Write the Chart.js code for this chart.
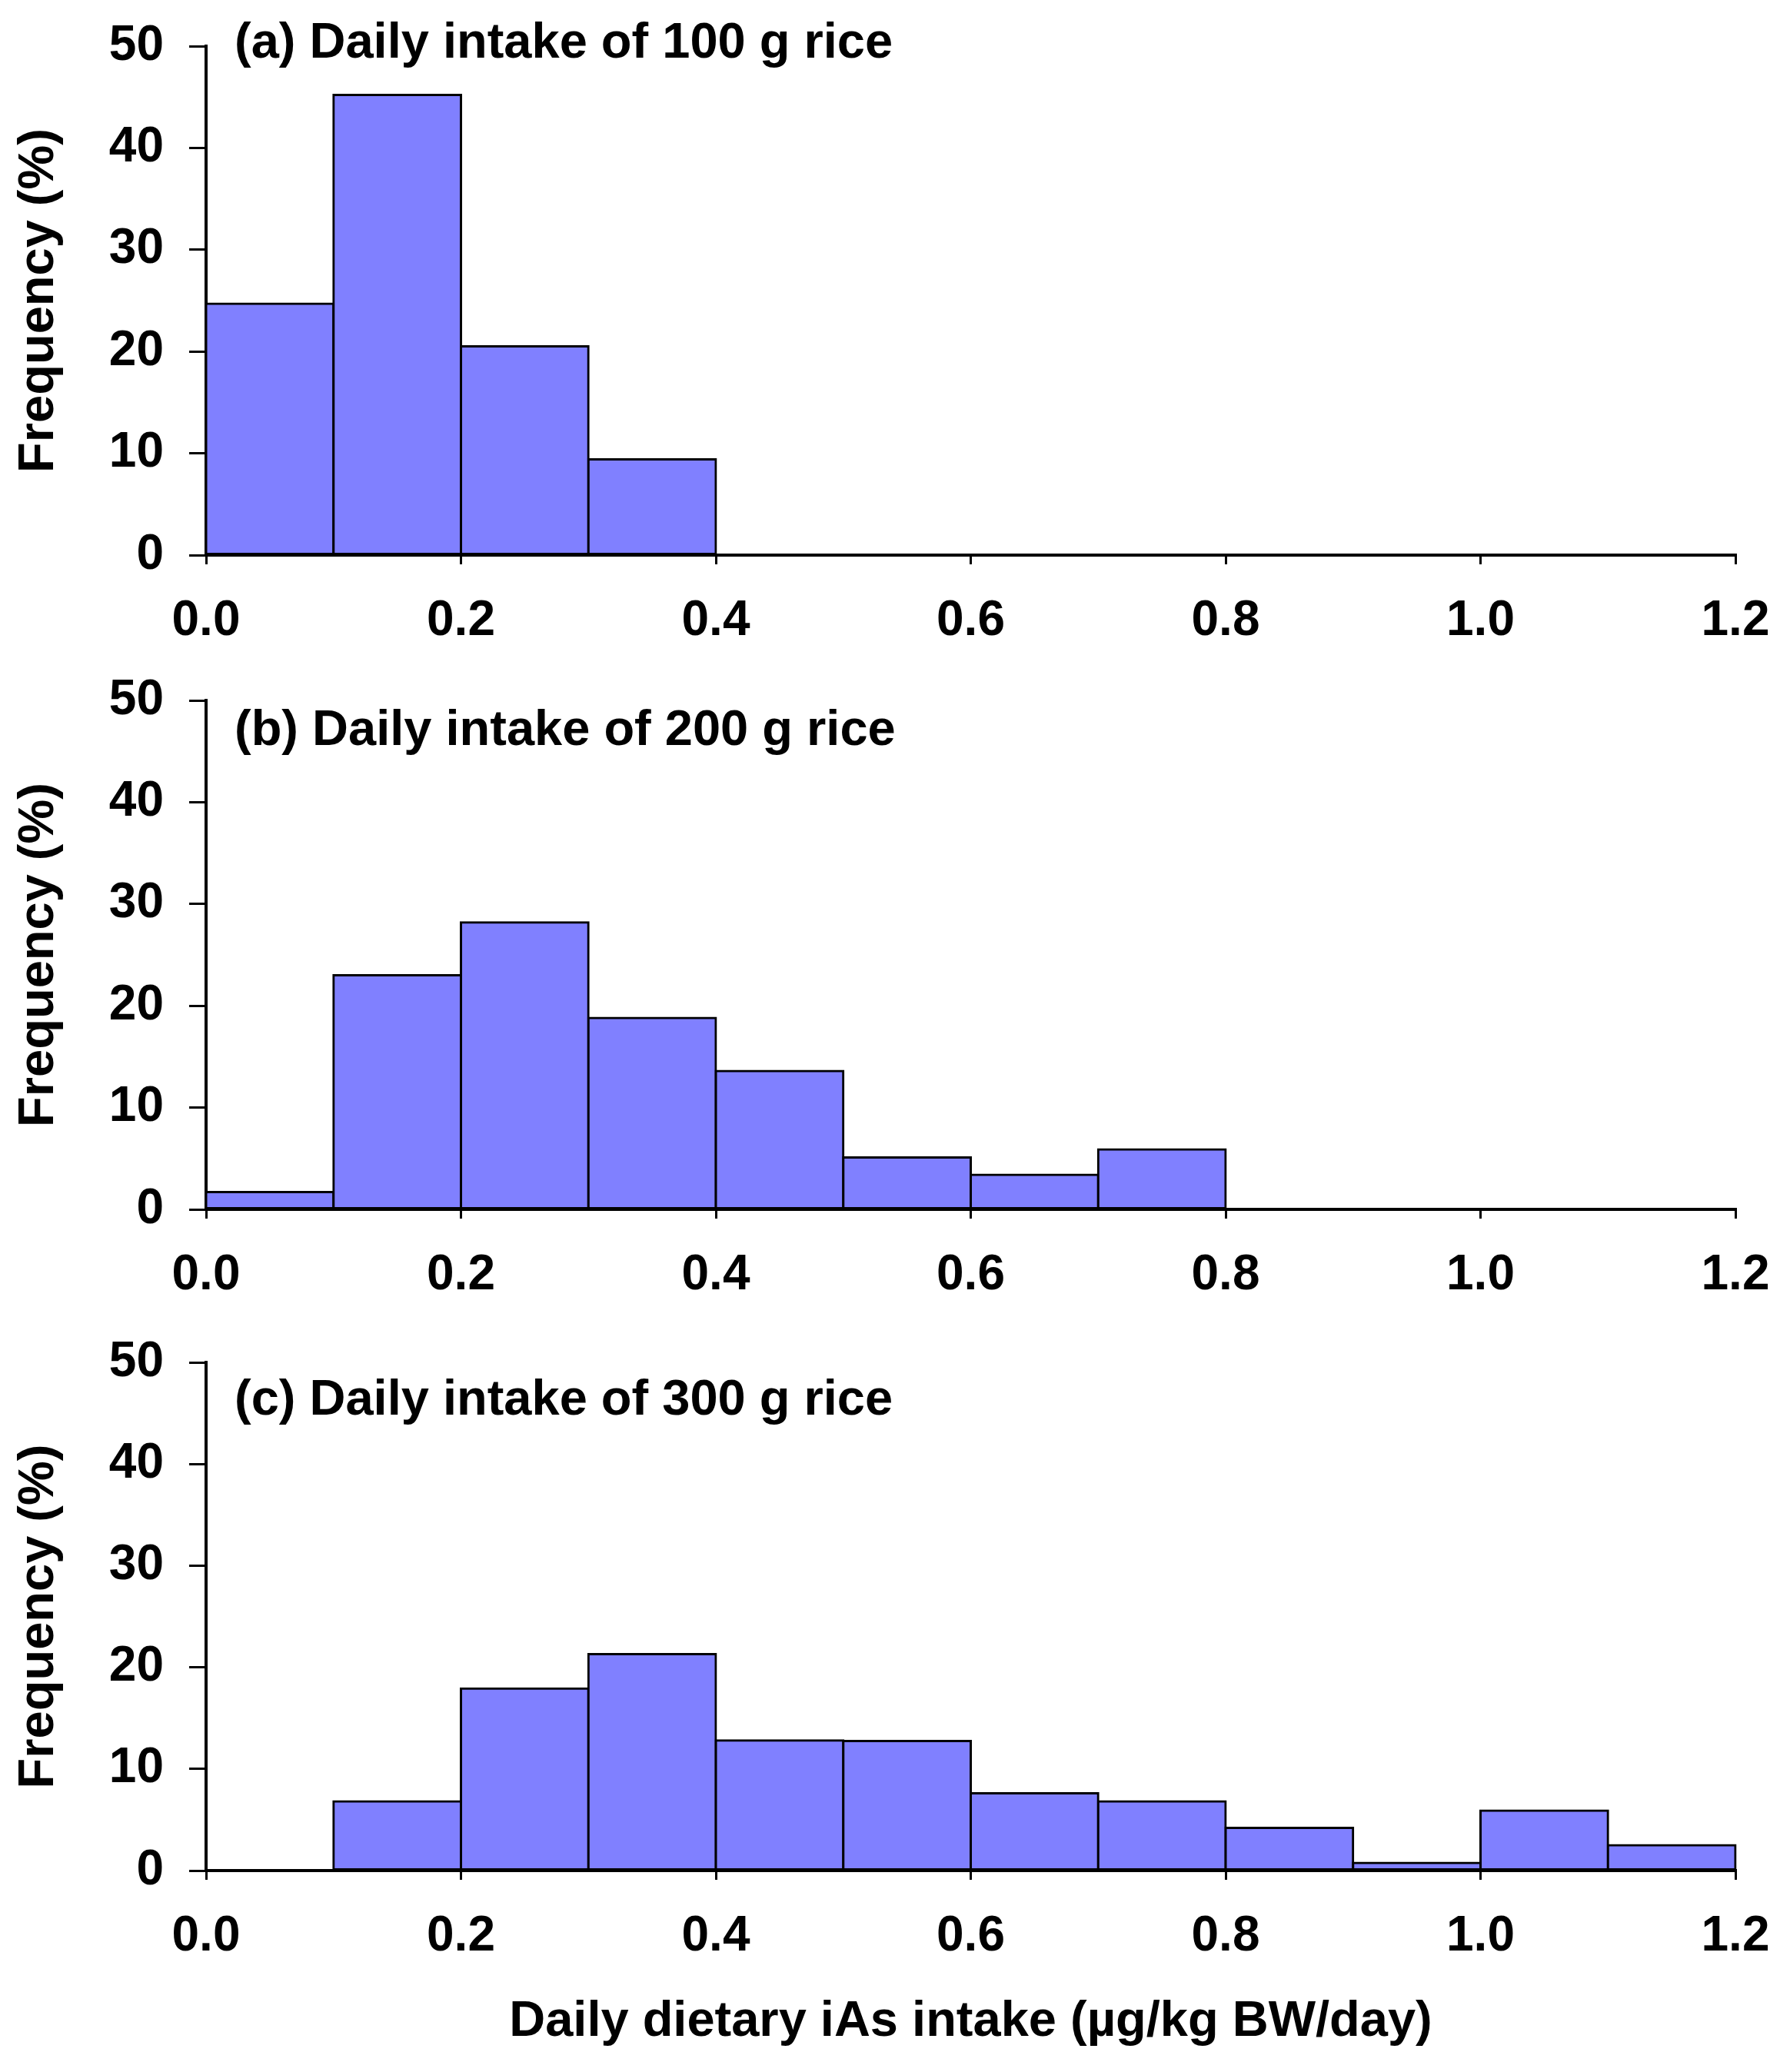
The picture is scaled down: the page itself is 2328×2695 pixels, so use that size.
<!DOCTYPE html>
<html>
<head>
<meta charset="utf-8">
<script src="https://cdn.jsdelivr.net/npm/chart.js@4.4.1/dist/chart.umd.min.js"></script>
<style>
  html, body { margin: 0; padding: 0; background: #ffffff; }
  #wrap { position: relative; width: 2328px; height: 2695px; background: #ffffff; }
  #wrap canvas { position: absolute; left: 0; }
</style>
</head>
<body>
<div id="wrap">
  <canvas id="chartA"></canvas>
  <canvas id="chartB"></canvas>
  <canvas id="chartC"></canvas>
</div>
<script>
// ---------------- DATA ----------------
const binWidth = 0.1;

const binStartA = [0.0, 0.1, 0.2, 0.3];
const freqA     = [24.7, 45.2, 20.5, 9.4];

const binStartB = [0.0, 0.1, 0.2, 0.3, 0.4, 0.5, 0.6, 0.7];
const freqB     = [1.7, 23.0, 28.2, 18.8, 13.6, 5.1, 3.4, 5.9];

const binStartC = [0.1, 0.2, 0.3, 0.4, 0.5, 0.6, 0.7, 0.8, 0.9, 1.0, 1.1];
const freqC     = [6.8, 17.9, 21.3, 12.8, 12.75, 7.6, 6.8, 4.2, 0.75, 5.9, 2.5];

const panelTitles = [
  '(a) Daily intake of 100 g rice',
  '(b) Daily intake of 200 g rice',
  '(c) Daily intake of 300 g rice'
];

const xTickMin = 0.0, xTickMax = 1.2, xTickStep = 0.2;
const yTickMin = 0,   yTickMax = 50,  yTickStep = 10;

const yAxisTitle = 'Frequency (%)';
const xAxisTitle = 'Daily dietary iAs intake (\u00B5g/kg BW/day)';

// ---------------- LAYOUT / STYLE ----------------
const FONT = '"Liberation Sans", Arial, Helvetica, sans-serif';
const BAR_FILL = '#8080FF';
const PLOT_LEFT = 268;
const PLOT_RIGHT_PAD = 2328 - 2257;
const TICK_FONT_SIZE = 64;
const TITLE_FONT_SIZE = 65;

const panels = [
  { id: 'chartA', top: 0,    height: 850, plotTop: 60,   plotBottom: 722,  titleDy: 15, starts: binStartA, freq: freqA, title: panelTitles[0], showXTitle: false },
  { id: 'chartB', top: 850,  height: 862, plotTop: 911,  plotBottom: 1573, titleDy: 58, starts: binStartB, freq: freqB, title: panelTitles[1], showXTitle: false },
  { id: 'chartC', top: 1712, height: 983, plotTop: 1772, plotBottom: 2433, titleDy: 68, starts: binStartC, freq: freqC, title: panelTitles[2], showXTitle: true }
];

const panelTitlePlugin = {
  id: 'panelTitle',
  afterDraw(chart, args, opts) {
    const { ctx, chartArea } = chart;
    ctx.save();
    ctx.font = 'bold ' + TITLE_FONT_SIZE + 'px ' + FONT;
    ctx.fillStyle = '#000000';
    ctx.textAlign = 'left';
    ctx.textBaseline = 'alphabetic';
    ctx.fillText(opts.text, chartArea.left + opts.dx, chartArea.top + opts.dy);
    ctx.restore();
  }
};

panels.forEach(p => {
  const canvas = document.getElementById(p.id);
  canvas.width = 2328;
  canvas.height = p.height;
  canvas.style.top = p.top + 'px';
  canvas.style.width = '2328px';
  canvas.style.height = p.height + 'px';

  const points = p.starts.map((s, i) => ({ x: s + binWidth / 2, y: p.freq[i] }));
  const xAxisHeight = p.top + p.height - p.plotBottom;

  new Chart(canvas.getContext('2d'), {
    type: 'bar',
    data: {
      datasets: [{
        data: points,
        backgroundColor: BAR_FILL,
        borderColor: '#000000',
        borderWidth: 3,
        borderSkipped: false,
        inflateAmount: 1.5,
        barPercentage: 1.0,
        categoryPercentage: 1.0,
        clip: false
      }]
    },
    options: {
      responsive: false,
      maintainAspectRatio: false,
      devicePixelRatio: 1,
      animation: false,
      events: [],
      layout: { padding: { top: p.plotTop - p.top, left: 0, right: PLOT_RIGHT_PAD, bottom: 0 } },
      plugins: {
        legend: { display: false },
        tooltip: { enabled: false },
        title: { display: false },
        panelTitle: { text: p.title, dx: 37, dy: p.titleDy }
      },
      scales: {
        x: {
          type: 'linear',
          position: 'bottom',
          min: xTickMin,
          max: xTickMax,
          offset: false,
          afterFit: (scale) => {
            scale.height = xAxisHeight;
            scale.paddingLeft = 0;
            scale.paddingRight = 0;
          },
          grid: {
            display: true,
            drawOnChartArea: false,
            drawTicks: true,
            tickLength: 12,
            lineWidth: 3,
            color: '#000000',
            offset: false
          },
          border: { display: true, color: '#000000', width: 4 },
          ticks: {
            stepSize: xTickStep,
            autoSkip: false,
            maxRotation: 0,
            minRotation: 0,
            padding: 36,
            color: '#000000',
            font: { family: FONT, size: TICK_FONT_SIZE, weight: 'bold', lineHeight: 1.2 },
            callback: (v) => Number(v).toFixed(1)
          },
          title: {
            display: p.showXTitle,
            text: xAxisTitle,
            color: '#000000',
            font: { family: FONT, size: TITLE_FONT_SIZE, weight: 'bold', lineHeight: 1.2 },
            padding: { top: 0, bottom: 26 }
          }
        },
        y: {
          type: 'linear',
          position: 'left',
          min: yTickMin,
          max: yTickMax,
          afterFit: (scale) => {
            scale.width = PLOT_LEFT;
            scale.paddingTop = 0;
            scale.paddingBottom = 0;
          },
          grid: {
            display: true,
            drawOnChartArea: false,
            drawTicks: true,
            tickLength: 22,
            lineWidth: 3,
            color: '#000000'
          },
          border: { display: true, color: '#000000', width: 4 },
          ticks: {
            stepSize: yTickStep,
            autoSkip: false,
            padding: 33,
            color: '#000000',
            font: { family: FONT, size: TICK_FONT_SIZE, weight: 'bold', lineHeight: 1.2 }
          },
          title: {
            display: true,
            text: yAxisTitle,
            color: '#000000',
            font: { family: FONT, size: TITLE_FONT_SIZE, weight: 'bold', lineHeight: 1.2 },
            padding: { top: 12, bottom: 0 }
          }
        }
      }
    },
    plugins: [panelTitlePlugin]
  });
});
</script>
</body>
</html>
